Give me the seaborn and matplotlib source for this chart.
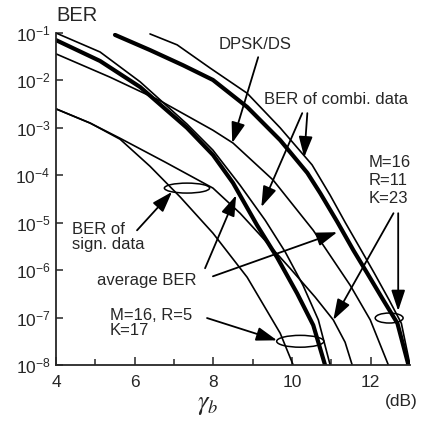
import pandas as pd
import matplotlib.pyplot as plt
from matplotlib.patches import Ellipse
from matplotlib.ticker import NullLocator
import seaborn as sns


# curves: gamma_b (dB) and log10(BER)
dpsk_x = [4.0, 5.37, 6.65, 7.99, 8.50, 9.52, 10.54, 11.48, 11.99, 12.45]
dpsk_lb = [-1.44, -1.93, -2.43, -3.05, -3.32, -4.10, -5.16, -6.32, -7.05, -8.0]

signA_x = [4.0, 4.87, 5.63, 6.39, 7.16, 7.99, 8.86, 9.70, 10.03]
signA_lb = [-2.60, -2.90, -3.24, -3.81, -4.46, -5.22, -6.15, -7.33, -8.0]

signB_x = [4.0, 4.87, 5.63, 6.77, 7.99, 8.68, 9.19, 9.95, 10.59, 11.05, 11.35, 11.53]
signB_lb = [-2.60, -2.90, -3.22, -3.72, -4.27, -4.80, -5.26, -5.96, -6.57, -7.05, -7.52, -8.0]

avgA_x = [4.0, 5.12, 6.14, 7.33, 7.99, 8.50, 9.11, 9.62, 10.13, 10.54, 10.84]
avgA_lb = [-1.15, -1.59, -2.14, -3.00, -3.57, -4.16, -5.05, -5.73, -6.49, -7.16, -8.0]

combA_x = [4.0, 5.12, 6.14, 7.33, 7.99, 8.68, 9.32, 9.83, 10.28, 10.67, 10.97]
combA_lb = [-1.0, -1.40, -2.03, -2.92, -3.47, -4.21, -4.95, -5.62, -6.32, -7.05, -8.0]

avgB_x = [5.50, 6.39, 7.23, 7.99, 8.86, 9.70, 10.39, 10.72, 11.15, 11.56, 11.91, 12.32, 12.68, 12.96]
avgB_lb = [-1.04, -1.36, -1.68, -1.99, -2.56, -3.26, -3.95, -4.38, -4.98, -5.58, -6.06, -6.63, -7.12, -8.0]

combB_x = [6.39, 7.08, 7.92, 8.86, 9.70, 10.51, 10.97, 11.35, 11.76, 12.09, 12.47, 12.78, 13.0]
combB_lb = [-1.02, -1.25, -1.74, -2.27, -3.0, -3.78, -4.42, -4.99, -5.58, -6.06, -6.63, -7.12, -8.0]

curves = [
    (dpsk_x, dpsk_lb, 1.2),
    (signA_x, signA_lb, 1.2),
    (signB_x, signB_lb, 1.2),
    (combA_x, combA_lb, 1.2),
    (avgA_x, avgA_lb, 3.0),
    (combB_x, combB_lb, 1.2),
    (avgB_x, avgB_lb, 3.0),
]

sns.set_style("ticks")
plt.rcParams['font.family'] = ['Liberation Sans', 'DejaVu Sans']
plt.rcParams['mathtext.fontset'] = 'custom'
plt.rcParams['mathtext.rm'] = 'Liberation Sans'
plt.rcParams['mathtext.default'] = 'regular'

fig = plt.figure(figsize=(4.29, 4.21), dpi=100)
ax = fig.add_axes([56 / 429, 1 - 365 / 421, 354 / 429, 332 / 421])

for xs, lbs, lw in curves:
    df = pd.DataFrame({'gamma': xs, 'ber': [10.0 ** v for v in lbs]})
    sns.lineplot(data=df, x='gamma', y='ber', ax=ax, color='black', lw=lw)

ax.set_yscale('log')
ax.set_ylim(1e-8, 1e-1)
ax.set_xlim(4, 13)
ax.set_yticks([10.0 ** k for k in range(-8, 0)])
ax.yaxis.set_minor_locator(NullLocator())
ax.set_xticks([4, 6, 8, 10, 12])
ax.set_xticks([5, 7, 9, 11], minor=True)
ax.tick_params(which='both', direction='in', width=1.1, labelsize=12.5)
ax.tick_params(axis='x', which='major', length=6, pad=7)
ax.tick_params(axis='x', which='minor', length=4)
ax.tick_params(axis='y', which='major', length=5, pad=4)
sns.despine(ax=ax)
for s in ['left', 'bottom']:
    ax.spines[s].set_linewidth(1.3)

ax.set_xlabel(r'$\mathit{\gamma}_{\mathit{b}}$', fontsize=19, labelpad=0, math_fontfamily='stix')
ax.xaxis.set_label_coords(0.43, -0.085)
ax.set_ylabel('')
ax.text(0.0, 1.054, 'BER', transform=ax.transAxes, fontsize=14.5, ha='left', va='center')
ax.text(0.975, -0.11, '(dB)', transform=ax.transAxes, fontsize=12.5, ha='center', va='center')


def L(x, lb):
    return (x, 10.0 ** lb)


def frac(x, lb):
    return ((x - 4) / 9, (lb + 8) / 7)


arrow = dict(arrowstyle='-|>,head_length=0.9,head_width=0.3', color='black', lw=1.3,
             mutation_scale=14, shrinkA=0, shrinkB=0)
fs = 12

ax.text(*L(9.06, -1.25), 'DPSK/DS', fontsize=fs, ha='center', va='center')
ax.annotate('', xy=L(8.48, -3.32), xytext=L(9.14, -1.51), arrowprops=arrow)

ax.text(*L(11.12, -2.41), 'BER of combi. data', fontsize=fs, ha='center', va='center')
ax.annotate('', xy=L(9.22, -4.67), xytext=L(10.26, -2.69), arrowprops=arrow)
ax.annotate('', xy=L(10.31, -3.62), xytext=L(10.39, -2.69), arrowprops=arrow)

ax.text(*L(11.94, -4.10), 'M=16\nR=11\nK=23', fontsize=fs, ha='left', va='center',
        linespacing=1.25)
ax.annotate('', xy=L(11.05, -7.05), xytext=L(12.58, -4.80), arrowprops=arrow)
ax.annotate('', xy=L(12.70, -6.86), xytext=L(12.70, -4.80), arrowprops=arrow)

ax.text(*L(4.41, -5.30), 'BER of\nsign. data', fontsize=fs, ha='left', va='center',
        linespacing=1.0)
ax.annotate('', xy=L(6.95, -4.35), xytext=L(6.06, -5.16), arrowprops=arrow)

ax.text(*L(5.04, -6.21), 'average BER', fontsize=fs, ha='left', va='center')
ax.annotate('', xy=L(8.58, -4.42), xytext=L(7.79, -5.96), arrowprops=arrow)
ax.annotate('', xy=L(11.15, -5.20), xytext=L(7.99, -6.13), arrowprops=arrow)

ax.text(*L(5.37, -7.12), 'M=16, R=5\nK=17', fontsize=fs, ha='left', va='center',
        linespacing=1.0)
ax.annotate('', xy=L(9.62, -7.48), xytext=L(7.84, -7.01), arrowprops=arrow)

# ellipses grouping curves
for cx, clb, w, h in [(7.33, -4.27, 1.15, 0.21), (10.21, -7.50, 1.2, 0.25), (12.47, -7.01, 0.71, 0.21)]:
    ax.add_patch(Ellipse(frac(cx, clb), w / 9, h / 7, transform=ax.transAxes,
                         fill=False, edgecolor='black', lw=1.1))

plt.savefig('out.png', dpi=100)
